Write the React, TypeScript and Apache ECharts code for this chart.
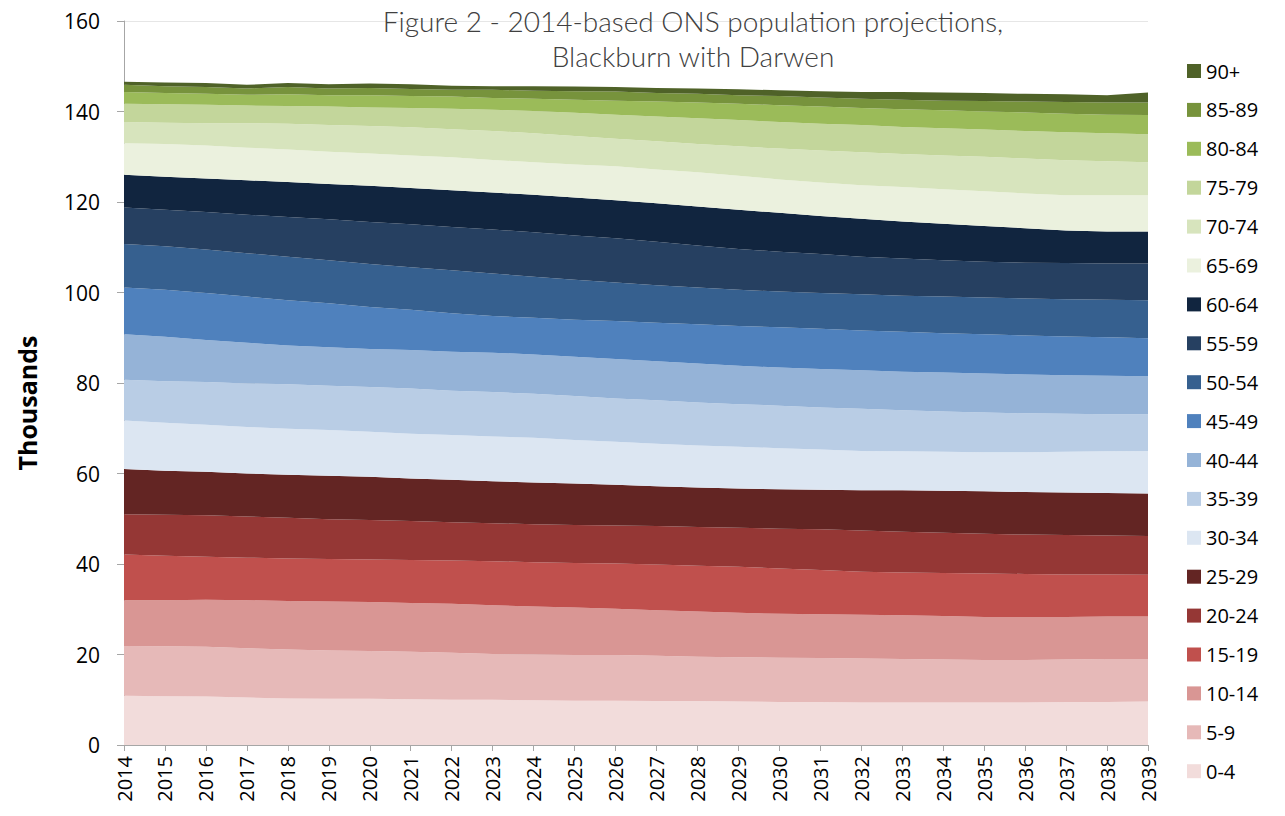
import React, { useEffect, useRef } from "react";
import * as echarts from "echarts";

const years = [
  "2014", "2015", "2016", "2017", "2018", "2019", "2020", "2021", "2022", "2023", "2024", "2025", "2026",
  "2027", "2028", "2029", "2030", "2031", "2032", "2033", "2034", "2035", "2036", "2037", "2038", "2039",
];

const ageGroups = [
  "0-4", "5-9", "10-14", "15-19", "20-24", "25-29", "30-34", "35-39", "40-44", "45-49",
  "50-54", "55-59", "60-64", "65-69", "70-74", "75-79", "80-84", "85-89", "90+",
];

const groupColors = [
  "#f2dcdb", "#e6b9b8", "#d99694", "#c0504d", "#953735", "#632523",
  "#dce6f2", "#b9cde5", "#95b3d7", "#4f81bd", "#36608f", "#264061", "#11253f",
  "#ebf1de", "#d7e4bd", "#c3d69b", "#9bbb59", "#77933c", "#4f6228",
];

// Population in thousands, by age group, 2014..2039
const age0to4 = [10.9, 10.8, 10.7, 10.5, 10.3, 10.2, 10.2, 10.1, 10.0, 10.0, 9.9, 9.8, 9.8, 9.7, 9.7, 9.6, 9.5, 9.5, 9.4, 9.4, 9.4, 9.4, 9.4, 9.5, 9.5, 9.6];
const age5to9 = [11.0, 11.0, 11.0, 10.9, 10.8, 10.7, 10.6, 10.5, 10.4, 10.1, 10.1, 10.1, 10.1, 10.0, 9.8, 9.8, 9.8, 9.7, 9.7, 9.6, 9.5, 9.4, 9.4, 9.4, 9.5, 9.4];
const age10to14 = [10.1, 10.2, 10.4, 10.6, 10.7, 10.8, 10.8, 10.8, 10.8, 10.8, 10.6, 10.5, 10.2, 10.1, 10.0, 9.8, 9.7, 9.7, 9.7, 9.7, 9.6, 9.5, 9.5, 9.4, 9.4, 9.4];
const age15to19 = [10.1, 9.8, 9.5, 9.4, 9.4, 9.4, 9.4, 9.5, 9.6, 9.7, 9.8, 9.8, 10.0, 10.1, 10.1, 10.2, 10.0, 9.8, 9.5, 9.4, 9.5, 9.6, 9.5, 9.4, 9.3, 9.2];
const age20to24 = [8.9, 9.1, 9.2, 9.1, 9.0, 8.8, 8.7, 8.6, 8.4, 8.4, 8.4, 8.4, 8.4, 8.5, 8.6, 8.6, 8.8, 9.0, 9.1, 9.0, 8.9, 8.8, 8.7, 8.7, 8.6, 8.6];
const age25to29 = [10.0, 9.7, 9.6, 9.5, 9.5, 9.6, 9.6, 9.4, 9.4, 9.3, 9.2, 9.2, 9.0, 8.8, 8.7, 8.7, 8.7, 8.7, 8.9, 9.2, 9.3, 9.4, 9.4, 9.4, 9.4, 9.4];
const age30to34 = [10.7, 10.6, 10.4, 10.3, 10.2, 10.1, 9.9, 9.9, 9.9, 9.9, 9.9, 9.6, 9.5, 9.4, 9.3, 9.2, 9.1, 8.9, 8.7, 8.6, 8.6, 8.6, 8.8, 9.0, 9.2, 9.4];
const age35to39 = [9.0, 9.2, 9.4, 9.6, 9.8, 9.8, 9.9, 10.0, 9.8, 9.8, 9.7, 9.7, 9.6, 9.6, 9.5, 9.4, 9.4, 9.3, 9.3, 9.1, 8.9, 8.8, 8.6, 8.4, 8.2, 8.1];
const age40to44 = [10.1, 9.8, 9.3, 9.0, 8.6, 8.5, 8.4, 8.5, 8.6, 8.7, 8.7, 8.7, 8.7, 8.6, 8.6, 8.5, 8.4, 8.5, 8.5, 8.5, 8.6, 8.6, 8.6, 8.5, 8.5, 8.4];
const age45to49 = [10.3, 10.4, 10.4, 10.2, 10.0, 9.7, 9.3, 8.9, 8.5, 8.1, 8.1, 8.2, 8.4, 8.5, 8.7, 8.8, 8.9, 8.9, 8.8, 8.8, 8.7, 8.7, 8.6, 8.6, 8.5, 8.4];
const age50to54 = [9.6, 9.6, 9.6, 9.6, 9.6, 9.5, 9.5, 9.4, 9.5, 9.4, 9.1, 8.8, 8.5, 8.3, 8.1, 8.0, 7.9, 7.9, 8.0, 8.0, 8.1, 8.1, 8.2, 8.2, 8.3, 8.4];
const age55to59 = [8.1, 8.1, 8.3, 8.5, 8.8, 9.1, 9.3, 9.5, 9.6, 9.7, 9.8, 9.8, 9.8, 9.6, 9.3, 9.0, 8.8, 8.6, 8.3, 8.2, 8.0, 7.9, 7.9, 8.0, 8.0, 8.1];
const age60to64 = [7.2, 7.3, 7.4, 7.6, 7.7, 7.8, 8.0, 8.0, 8.1, 8.2, 8.3, 8.4, 8.4, 8.5, 8.6, 8.7, 8.6, 8.4, 8.4, 8.2, 8.1, 7.9, 7.6, 7.2, 7.1, 7.1];
const age65to69 = [7.0, 7.2, 7.3, 7.2, 7.2, 7.1, 7.1, 7.2, 7.3, 7.2, 7.2, 7.3, 7.5, 7.5, 7.6, 7.5, 7.4, 7.4, 7.4, 7.6, 7.6, 7.7, 7.7, 7.8, 8.0, 8.0];
const age70to74 = [4.7, 4.7, 4.9, 5.4, 5.7, 5.9, 6.1, 6.2, 6.2, 6.4, 6.4, 6.3, 6.1, 6.2, 6.2, 6.5, 6.8, 7.1, 7.3, 7.3, 7.5, 7.6, 7.7, 7.7, 7.5, 7.3];
const age75to79 = [4.0, 4.1, 4.1, 3.9, 3.9, 4.1, 4.1, 4.3, 4.5, 4.7, 4.9, 5.1, 5.3, 5.5, 5.7, 5.8, 5.9, 5.9, 6.0, 6.0, 6.0, 6.0, 6.1, 6.2, 6.2, 6.2];
const age80to84 = [2.6, 2.5, 2.4, 2.4, 2.6, 2.5, 2.7, 2.6, 2.7, 2.6, 2.7, 2.9, 3.1, 3.3, 3.5, 3.6, 3.7, 3.8, 3.8, 3.9, 4.0, 4.0, 4.1, 4.1, 4.1, 4.2];
const age85to89 = [1.6, 1.5, 1.5, 1.4, 1.6, 1.5, 1.6, 1.6, 1.5, 1.8, 1.8, 1.9, 2.0, 1.9, 1.9, 1.9, 2.0, 2.0, 2.0, 2.1, 2.1, 2.3, 2.4, 2.6, 2.7, 2.8];
const age90plus = [0.7, 0.8, 0.9, 0.8, 0.9, 0.9, 1.0, 1.0, 0.9, 0.8, 1.0, 1.0, 1.0, 1.1, 1.2, 1.3, 1.3, 1.4, 1.5, 1.7, 1.8, 1.8, 1.7, 1.7, 1.6, 2.2];

const yTicks = { min: 0, max: 160, interval: 20 };

const groupValues = [
  age0to4, age5to9, age10to14, age15to19, age20to24, age25to29, age30to34, age35to39, age40to44,
  age45to49, age50to54, age55to59, age60to64, age65to69, age70to74, age75to79, age80to84, age85to89, age90plus,
];

const FONT = "'Open Sans', 'Noto Sans', sans-serif";
const TITLE_FONT = "Lato, 'Noto Sans', sans-serif";

export default function App() {
  const ref = useRef<HTMLDivElement>(null);

  useEffect(() => {
    if (!ref.current) return;
    const chart = echarts.init(ref.current, null, { renderer: "svg" });

    const series = ageGroups.map((name, i) => ({
      name,
      type: "line",
      stack: "total",
      data: groupValues[i],
      symbol: "none",
      showSymbol: false,
      lineStyle: { width: 0 },
      areaStyle: { color: groupColors[i], opacity: 1 },
      itemStyle: { color: groupColors[i] },
      emphasis: { disabled: true },
    }));

    chart.setOption({
      animation: false,
      backgroundColor: "#ffffff",
      title: {
        text: "Figure 2 - 2014-based ONS population projections,\nBlackburn with Darwen",
        left: 688,
        textAlign: "center",
        top: -2,
        textStyle: {
          fontFamily: TITLE_FONT,
          fontSize: 28,
          fontWeight: 300,
          color: "#404040",
          lineHeight: 35,
        },
      },
      legend: {
        orient: "vertical",
        left: 1182,
        top: 56,
        data: [...ageGroups].reverse(),
        icon: "rect",
        itemWidth: 14,
        itemHeight: 14,
        itemGap: 18.9,
        selectedMode: false,
        textStyle: { fontFamily: FONT, fontSize: 20, color: "#000", lineHeight: 20, padding: [0, 0, 0, 0] },
      },
      graphic: [
        {
          type: "text",
          x: 27,
          y: 403,
          rotation: Math.PI / 2,
          style: {
            text: "Thousands",
            fontFamily: FONT,
            fontSize: 25,
            fontWeight: "bold",
            fill: "#000",
            textAlign: "center",
            textVerticalAlign: "middle",
          },
        },
      ],
      grid: { left: 124, right: 137, top: 21, bottom: 71, containLabel: false },
      xAxis: {
        type: "category",
        boundaryGap: false,
        data: years,
        axisLine: { lineStyle: { color: "#a6a6a6", width: 1 } },
        axisTick: { show: true, length: 6, interval: 0, lineStyle: { color: "#a6a6a6" } },
        axisLabel: { rotate: 90, interval: 0, fontFamily: FONT, fontSize: 20, color: "#000", margin: 11 },
        splitLine: { show: false },
      },
      yAxis: {
        type: "value",
        min: yTicks.min,
        max: yTicks.max,
        interval: yTicks.interval,
        axisLine: { show: true, lineStyle: { color: "#a6a6a6", width: 1 } },
        axisTick: { show: true, length: 7, lineStyle: { color: "#a6a6a6" } },
        axisLabel: { fontFamily: FONT, fontSize: 21, color: "#000", margin: 24 },
        splitLine: { show: true, lineStyle: { color: "#e6e6e6" } },
      },
      series,
    });

    return () => chart.dispose();
  }, []);

  return (
    <div
      ref={ref}
      style={{ position: "fixed", left: 0, top: 0, width: 1285, height: 816, background: "#fff" }}
    />
  );
}
